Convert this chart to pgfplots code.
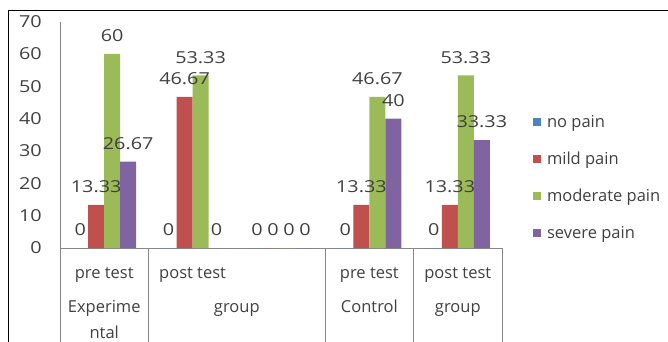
\documentclass[border=0pt]{standalone}
\usepackage{pgfplots}
\pgfplotsset{compat=1.18}
\usepackage{fontspec}
\setmainfont{Open Sans}
\newfontfamily\numfont{Open Sans}[FakeStretch=1.2]

\definecolor{nopain}{HTML}{4F81BD}
\definecolor{mildpain}{HTML}{C0504D}
\definecolor{modpain}{HTML}{9BBB59}
\definecolor{sevpain}{HTML}{8064A2}
\definecolor{txt}{HTML}{404040}
\definecolor{axgray}{HTML}{878787}

\newcommand\lblfont{\fontsize{16.5}{19}\selectfont}
\tikzset{
  grouplbl/.style={anchor=base, inner sep=0pt, font=\lblfont, text=txt},
  groupsep/.style={axgray, line width=1pt},
}
\pgfplotsset{
  squarelegend/.style={legend image code/.code={\fill[##1] (0pt,-4pt) rectangle (8pt,4pt);}}
}

\begin{document}
\begin{tikzpicture}[x=1pt,y=1pt]
\useasboundingbox (0,0) rectangle (668,342);
\clip (0,0) rectangle (668,342);
% outer frame
\draw[black, line width=1pt] (8,0) -- (8,331) -- (668,331);
\begin{axis}[
  at={(60pt,94pt)}, anchor=south west,
  scale only axis, width=442pt, height=226.5pt,
  xmin=-0.5, xmax=4.5, ymin=0, ymax=70,
  ytick={0,10,...,70},
  xtick={0,1,2,3,4},
  xticklabels={pre test,post test,,pre test,post test},
  major tick length=0pt,
  axis x line=bottom, axis y line=left,
  axis line style={-, draw=axgray, line width=1pt},
  ybar=0pt, bar width=16pt,
  clip=false,
  tick label style={font=\lblfont, text=txt},
  yticklabel style={font=\numfont\lblfont, anchor=east, inner sep=0pt, xshift=-18pt},
  xticklabel style={anchor=base, inner sep=0pt, yshift=-30pt},
  /pgf/number format/assume math mode=true,
  nodes near coords,
  every node near coord/.append style={font=\numfont\lblfont, text=txt, anchor=south, inner sep=0pt, yshift=12pt},
  squarelegend,
  legend cell align=left,
  legend style={draw=none, fill=none, at={(1.063,0.31)}, anchor=west,
    font=\lblfont, text=txt, row sep=19pt,
    /tikz/every odd column/.append style={column sep=4pt}},
]
\addplot[fill=nopain, draw=none] coordinates {(0,0) (1,0) (2,0) (3,0) (4,0)};
\addplot[fill=mildpain, draw=none] coordinates {(0,13.33) (1,46.67) (2,0) (3,13.33) (4,13.33)};
\addplot[fill=modpain, draw=none] coordinates {(0,60) (1,53.33) (2,0) (3,46.67) (4,53.33)};
\addplot[fill=sevpain, draw=none] coordinates {(0,26.67) (1,0) (2,0) (3,40) (4,33.33)};
\legend{no pain, mild pain, moderate pain, severe pain}

% group separators below the category axis
\draw[groupsep] (axis cs:-0.5,0) -- ([yshift=-100pt]axis cs:-0.5,0);
\draw[groupsep] (axis cs:0.5,0) -- ([yshift=-100pt]axis cs:0.5,0);
\draw[groupsep] (axis cs:2.5,0) -- ([yshift=-100pt]axis cs:2.5,0);
\draw[groupsep] (axis cs:3.5,0) -- ([yshift=-100pt]axis cs:3.5,0);
\draw[groupsep] (axis cs:4.5,0) -- ([yshift=-100pt]axis cs:4.5,0);
% outer category labels
\node[grouplbl] at ([yshift=-64pt]axis cs:0,0) {Experime};
\node[grouplbl] at ([yshift=-90pt]axis cs:0,0) {ntal};
\node[grouplbl] at ([yshift=-64pt]axis cs:1.5,0) {group};
\node[grouplbl] at ([yshift=-64pt]axis cs:3,0) {Control};
\node[grouplbl] at ([yshift=-64pt]axis cs:4,0) {group};
\end{axis}
\end{tikzpicture}
\end{document}
